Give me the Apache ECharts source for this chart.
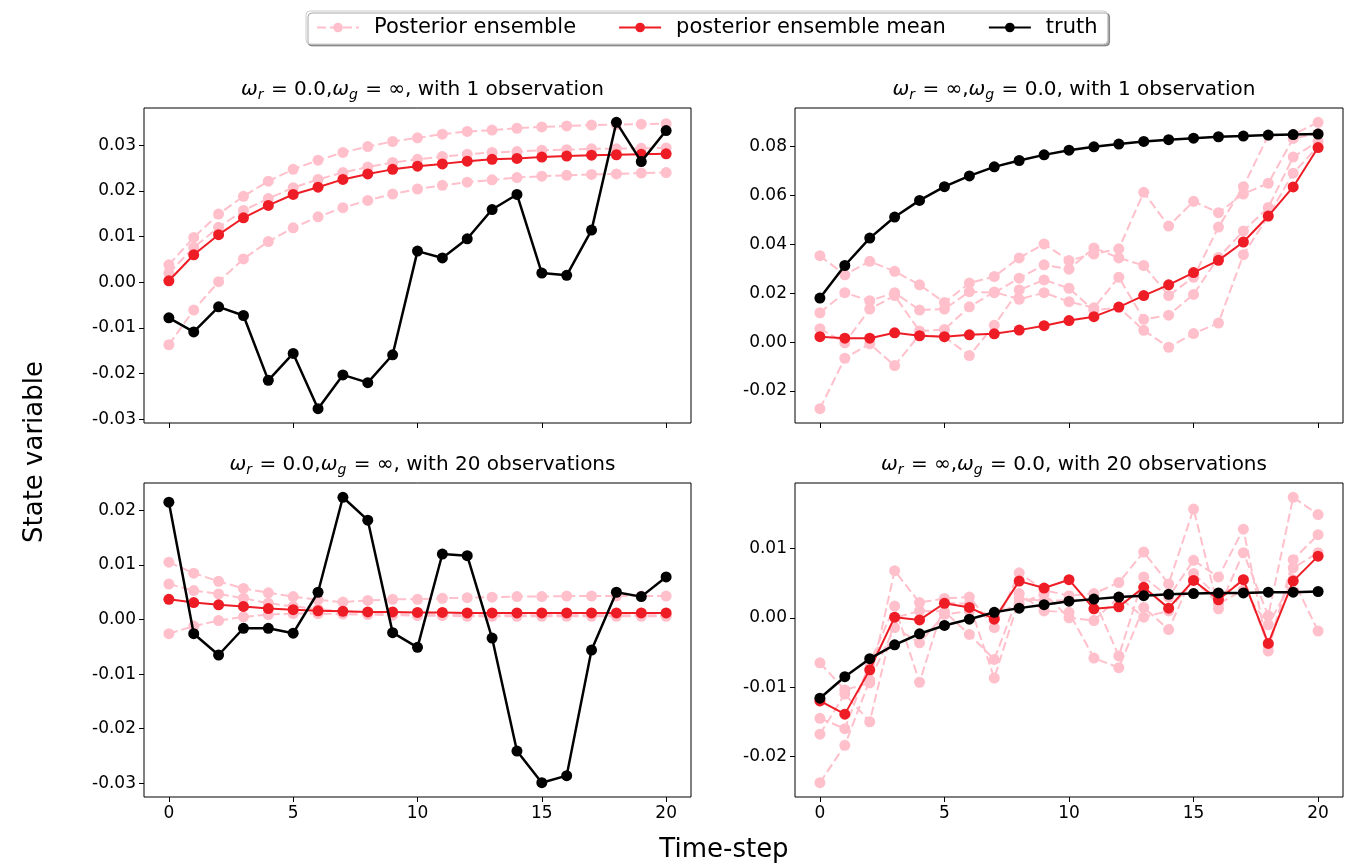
<!DOCTYPE html>
<html>
<head>
<meta charset="utf-8">
<script src="https://cdn.jsdelivr.net/npm/echarts@6/dist/echarts.min.js"></script>
<style>
html,body{margin:0;padding:0;background:#fff;}
#chart{width:1349px;height:866px;}
</style>
</head>
<body>
<div id="chart"></div>
<script>
// ---------------- data ----------------
const steps = [0,1,2,3,4,5,6,7,8,9,10,11,12,13,14,15,16,17,18,19,20];
const xTicks = [0,5,10,15,20];

// top-left: w_r = 0.0, w_g = inf, 1 observation
const tlTruth = [-0.0078,-0.0109,-0.0054,-0.0073,-0.0215,-0.0156,-0.0277,-0.0203,-0.0220,-0.0159,0.0068,0.0053,0.0095,0.0159,0.0192,0.0020,0.0015,0.0114,0.0350,0.0264,0.0332];
const tlMean  = [0.0003,0.0060,0.0104,0.0141,0.0168,0.0192,0.0208,0.0225,0.0237,0.0247,0.0254,0.0259,0.0265,0.0269,0.0271,0.0274,0.0276,0.0278,0.0279,0.0280,0.0281];
const tlEns1  = [0.0038,0.0098,0.0149,0.0188,0.0221,0.0247,0.0267,0.0284,0.0297,0.0308,0.0316,0.0324,0.0330,0.0333,0.0337,0.0340,0.0342,0.0344,0.0345,0.0346,0.0347];
const tlEns2  = [0.0020,0.0076,0.0120,0.0157,0.0183,0.0207,0.0225,0.0240,0.0252,0.0262,0.0269,0.0275,0.0280,0.0284,0.0286,0.0289,0.0290,0.0292,0.0292,0.0293,0.0294];
const tlEns3  = [-0.0137,-0.0061,0.0001,0.0051,0.0089,0.0119,0.0143,0.0163,0.0179,0.0193,0.0204,0.0212,0.0219,0.0224,0.0229,0.0232,0.0234,0.0236,0.0237,0.0239,0.0240];
const tlYTicks = [-0.03,-0.02,-0.01,0,0.01,0.02,0.03];

// top-right: w_r = inf, w_g = 0.0, 1 observation
const trTruth = [0.0180,0.0313,0.0425,0.0511,0.0579,0.0635,0.0679,0.0716,0.0742,0.0765,0.0784,0.0798,0.0809,0.0820,0.0827,0.0833,0.0839,0.0842,0.0846,0.0848,0.0850];
const trMean  = [0.0022,0.0016,0.0016,0.0038,0.0026,0.0022,0.0030,0.0034,0.0049,0.0067,0.0088,0.0104,0.0143,0.0190,0.0234,0.0284,0.0334,0.0409,0.0515,0.0634,0.0795];
const trEns1  = [0.0353,0.0275,0.0330,0.0289,0.0234,0.0162,0.0241,0.0268,0.0344,0.0401,0.0333,0.0360,0.0381,0.0612,0.0474,0.0575,0.0529,0.0605,0.0649,0.0832,0.0852];
const trEns2  = [0.0120,0.0202,0.0169,0.0202,0.0131,0.0135,0.0206,0.0202,0.0261,0.0316,0.0298,0.0385,0.0344,0.0313,0.0190,0.0265,0.0470,0.0635,0.0845,0.0848,0.0898];
const trEns3  = [0.0055,-0.0003,0.0135,0.0190,0.0045,0.0052,0.0144,0.0205,0.0175,0.0202,0.0165,0.0140,0.0265,0.0093,0.0110,0.0195,0.0346,0.0454,0.0550,0.0756,0.0820];
const trEns4  = [-0.0272,-0.0066,-0.0007,-0.0096,0.0030,0.0021,-0.0055,0.0069,0.0213,0.0254,0.0220,0.0130,0.0142,0.0048,-0.0021,0.0035,0.0078,0.0357,0.0515,0.0690,0.0800];
const trYTicks = [-0.02,0,0.02,0.04,0.06,0.08];

// bottom-left: w_r = 0.0, w_g = inf, 20 observations
const blTruth = [0.0215,-0.0026,-0.0065,-0.0016,-0.0016,-0.0025,0.0050,0.0224,0.0182,-0.0024,-0.0051,0.0120,0.0117,-0.0034,-0.0241,-0.0299,-0.0286,-0.0056,0.0050,0.0042,0.0078];
const blMean  = [0.0037,0.0031,0.0027,0.0024,0.0020,0.0018,0.0016,0.0015,0.0014,0.0014,0.0013,0.0013,0.0012,0.0012,0.0012,0.0012,0.0012,0.0012,0.0012,0.0012,0.0012];
const blEns1  = [0.0105,0.0085,0.0070,0.0057,0.0049,0.0042,0.0036,0.0032,0.0035,0.0037,0.0037,0.0039,0.0040,0.0041,0.0042,0.0042,0.0043,0.0043,0.0043,0.0043,0.0043];
const blEns2  = [0.0065,0.0053,0.0047,0.0039,0.0030,0.0024,0.0019,0.0015,0.0012,0.0010,0.0009,0.0009,0.0008,0.0008,0.0008,0.0008,0.0008,0.0008,0.0008,0.0008,0.0008];
const blEns3  = [-0.0026,-0.0012,-0.0002,0.0005,0.0009,0.0011,0.0011,0.0010,0.0009,0.0008,0.0007,0.0007,0.0006,0.0006,0.0006,0.0006,0.0006,0.0006,0.0006,0.0006,0.0006];
const blYTicks = [-0.03,-0.02,-0.01,0,0.01,0.02];

// bottom-right: w_r = inf, w_g = 0.0, 20 observations
const brTruth = [-0.0116,-0.0085,-0.0059,-0.0039,-0.0023,-0.0011,-0.0002,0.0008,0.0014,0.0019,0.0024,0.0027,0.0030,0.0032,0.0034,0.0035,0.0036,0.0036,0.0037,0.0037,0.0038];
const brMean  = [-0.0120,-0.0139,-0.0075,0.0001,-0.0003,0.0021,0.0015,-0.0002,0.0053,0.0043,0.0055,0.0013,0.0016,0.0044,0.0014,0.0054,0.0026,0.0055,-0.0037,0.0053,0.0089];
const brEns1  = [-0.0065,-0.0104,-0.0094,0.0068,0.0022,0.0028,0.0030,-0.0014,0.0065,0.0040,0.0032,0.0035,0.0051,0.0095,0.0049,0.0157,0.0013,0.0094,0.0003,0.0174,0.0149];
const brEns2  = [-0.0145,-0.0160,-0.0065,0.0017,-0.0093,0.0022,0.0020,-0.0087,0.0027,0.0025,0.0025,0.0027,-0.0055,0.0059,0.0030,0.0083,0.0059,0.0128,-0.0048,0.0084,0.0120];
const brEns3  = [-0.0168,-0.0110,-0.0150,0.0000,0.0010,0.0009,-0.0024,-0.0060,0.0035,0.0010,0.0008,-0.0058,-0.0072,0.0015,-0.0017,0.0064,0.0030,0.0055,-0.0040,0.0072,0.0094];
const brEns4  = [-0.0238,-0.0184,-0.0090,-0.0014,-0.0036,0.0005,0.0010,0.0005,0.0020,0.0035,0.0000,-0.0004,0.0030,0.0001,0.0010,0.0055,0.0020,0.0040,-0.0010,0.0055,-0.0019];
const brYTicks = [-0.02,-0.01,0,0.01];

const titles = [
  '{i|ω}{s|r}{n| = 0.0,}{i|ω}{s|g}{n| = ∞, with 1 observation}',
  '{i|ω}{s|r}{n| = ∞,}{i|ω}{s|g}{n| = 0.0, with 1 observation}',
  '{i|ω}{s|r}{n| = 0.0,}{i|ω}{s|g}{n| = ∞, with 20 observations}',
  '{i|ω}{s|r}{n| = ∞,}{i|ω}{s|g}{n| = 0.0, with 20 observations}'
];
const legendNames = ['Posterior ensemble','posterior ensemble mean','truth'];

// ---------------- layout ----------------
const FONT = 'DejaVu Sans';
const PINK = '#ffc0cb', RED = '#ee1c25', BLACK = '#000000';
const grids = [
  {left:144, top:108, width:547, height:315},
  {left:795, top:108, width:548, height:315},
  {left:144, top:483, width:547, height:314},
  {left:795, top:483, width:548, height:314}
];
const panels = [
  {truth:tlTruth, mean:tlMean, ens:[tlEns1,tlEns2,tlEns3], ticks:tlYTicks},
  {truth:trTruth, mean:trMean, ens:[trEns1,trEns2,trEns3,trEns4], ticks:trYTicks},
  {truth:blTruth, mean:blMean, ens:[blEns1,blEns2,blEns3], ticks:blYTicks},
  {truth:brTruth, mean:brMean, ens:[brEns1,brEns2,brEns3,brEns4], ticks:brYTicks}
];

const pairs = arr => steps.map((s,i)=>[s,arr[i]]);
const fmt = v => (v<0?'-':'') + Math.abs(v).toFixed(2);

const xAxes = [], yAxes = [], series = [], titleOpts = [];
panels.forEach((p,k)=>{
  const all = p.truth.concat(p.mean, ...p.ens);
  const lo = Math.min(...all), hi = Math.max(...all), pad = (hi-lo)*0.05;
  xAxes.push({
    type:'value', gridIndex:k, min:-1, max:21, position:'bottom',
    splitLine:{show:false}, axisLine:{show:false, onZero:false},
    axisTick:{show:true, inside:false, customValues:xTicks, length:5, lineStyle:{color:'#000',width:1}},
    axisLabel:{show:k>=2, customValues:xTicks, color:'#000', fontFamily:FONT, fontSize:17, margin:8}
  });
  yAxes.push({
    type:'value', gridIndex:k, min:lo-pad, max:hi+pad, position:'left',
    splitLine:{show:false}, axisLine:{show:false, onZero:false},
    axisTick:{show:true, inside:false, customValues:p.ticks, length:5, lineStyle:{color:'#000',width:1}},
    axisLabel:{show:true, customValues:p.ticks, formatter:fmt, color:'#000', fontFamily:FONT, fontSize:17, margin:8}
  });
  p.ens.forEach(e=>{
    series.push({
      name:legendNames[0], type:'line', xAxisIndex:k, yAxisIndex:k, data:pairs(e),
      symbol:'circle', symbolSize:11, showSymbol:true, z:2,
      lineStyle:{color:PINK, width:2, type:[9,4]}, itemStyle:{color:PINK}, animation:false
    });
  });
  series.push({
    name:legendNames[1], type:'line', xAxisIndex:k, yAxisIndex:k, data:pairs(p.mean),
    symbol:'circle', symbolSize:11, z:3,
    lineStyle:{color:RED, width:2}, itemStyle:{color:RED}, animation:false
  });
  series.push({
    name:legendNames[2], type:'line', xAxisIndex:k, yAxisIndex:k, data:pairs(p.truth),
    symbol:'circle', symbolSize:11, z:4,
    lineStyle:{color:BLACK, width:2.5}, itemStyle:{color:BLACK}, animation:false
  });
  const g = grids[k];
  titleOpts.push({
    text:titles[k], left:g.left+g.width/2, top:g.top-35, textAlign:'center',
    textStyle:{
      fontWeight:'normal',
      rich:{
        n:{fontFamily:FONT, fontWeight:'normal', fontSize:20, color:'#000'},
        i:{fontFamily:FONT, fontWeight:'normal', fontStyle:'italic', fontSize:20, color:'#000'},
        s:{fontFamily:FONT, fontWeight:'normal', fontStyle:'italic', fontSize:14, color:'#000', padding:[10,1,0,0]}
      }
    }
  });
});

const chart = echarts.init(document.getElementById('chart'), null, {renderer:'canvas'});
chart.setOption({
  backgroundColor:'#fff',
  animation:false,
  title:titleOpts,
  grid:grids.map(g=>Object.assign({show:true, borderColor:'#000', borderWidth:1, backgroundColor:'transparent'}, g)),
  xAxis:xAxes,
  yAxis:yAxes,
  legend:{
    data:legendNames, left:306, top:11, orient:'horizontal',
    itemWidth:42, itemHeight:12, itemGap:42,
    padding:[6,10,6,10],
    borderColor:'#cccccc', borderWidth:1, borderRadius:4,
    backgroundColor:'#fff',
    shadowColor:'rgba(0,0,0,0.35)', shadowBlur:0, shadowOffsetX:2, shadowOffsetY:2,
    textStyle:{fontFamily:FONT, fontSize:21, color:'#000', padding:[0,0,0,10]},
    selectedMode:false
  },
  graphic:[
    {type:'text', x:35, y:452, rotation:Math.PI/2,
     style:{text:'State variable', fontFamily:FONT, fontSize:26, fill:'#000', align:'center', verticalAlign:'middle'}},
    {type:'text', x:724, y:850,
     style:{text:'Time-step', fontFamily:FONT, fontSize:26, fill:'#000', align:'center', verticalAlign:'middle'}}
  ],
  series:series
});
</script>
</body>
</html>
